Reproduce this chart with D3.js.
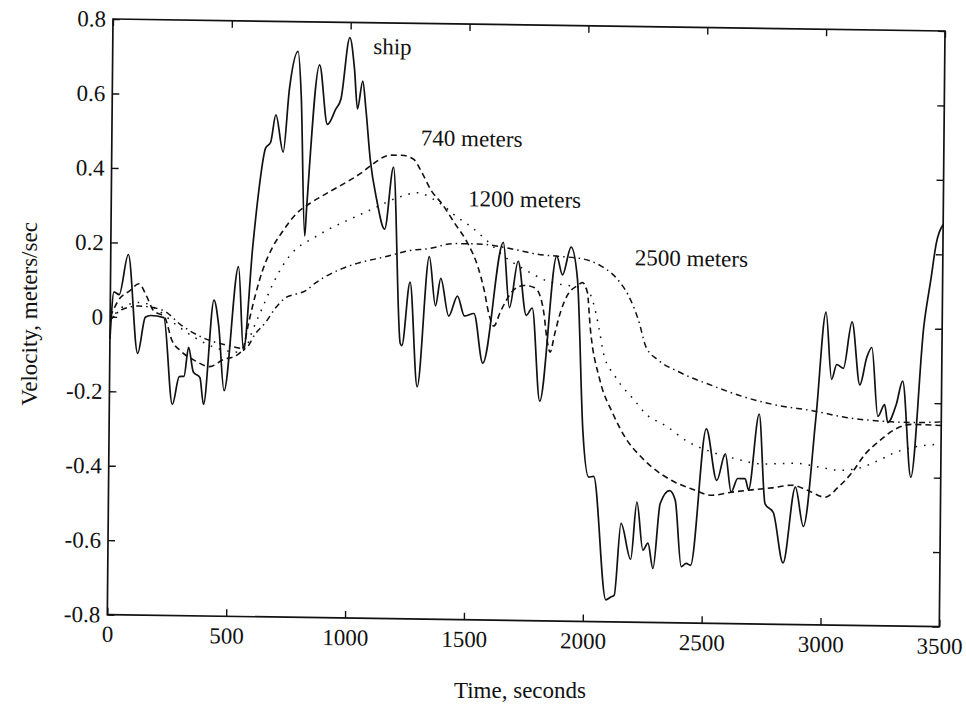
<!DOCTYPE html>
<html>
<head>
<meta charset="utf-8">
<script src="https://cdn.jsdelivr.net/npm/d3@7"></script>
<style>
  body { margin: 0; background: #fff; }
  svg { display: block; }
</style>
</head>
<body>
<div id="chart"><svg></svg></div>
<script>

// values: [time (s), velocity (m/s)]
var ship = [
    [0, -0.06], [15, 0.067], [37, 0.06], [74, 0.168], [117, -0.097], [148, 0.0], [170, 0.005],
    [226, 0.0], [265, -0.233], [293, -0.158], [313, -0.157], [331, -0.079], [352, -0.145],
    [380, -0.16], [396, -0.232], [436, 0.049], [457, -0.02], [482, -0.194], [538, 0.14],
    [562, -0.085], [597, 0.194], [618, 0.332], [647, 0.459], [668, 0.475], [689, 0.549],
    [721, 0.449], [745, 0.619], [780, 0.72], [795, 0.6], [815, 0.225], [822, 0.3], [871, 0.685],
    [906, 0.525], [941, 0.567], [962, 0.594], [997, 0.759], [1018, 0.674], [1032, 0.568],
    [1053, 0.643], [1067, 0.57], [1088, 0.431], [1116, 0.326], [1151, 0.246], [1186, 0.413],
    [1221, -0.06], [1228, -0.066], [1260, 0.105], [1294, -0.176], [1340, 0.174], [1368, 0.042],
    [1389, 0.116], [1424, 0.015], [1460, 0.069], [1490, 0.016], [1530, 0.023], [1569, -0.11],
    [1651, 0.215], [1679, 0.04], [1714, 0.165], [1750, 0.02], [1775, 0.04], [1810, -0.21],
    [1876, 0.18], [1901, 0.13], [1936, 0.205], [1964, 0.12], [1993, -0.29], [2019, -0.412],
    [2040, -0.41], [2096, -0.741], [2117, -0.733], [2131, -0.729], [2157, -0.535], [2199, -0.631],
    [2223, -0.477], [2250, -0.606], [2271, -0.587], [2293, -0.655], [2321, -0.48], [2360, -0.445],
    [2384, -0.47], [2412, -0.649], [2433, -0.64], [2451, -0.645], [2512, -0.278], [2558, -0.416],
    [2593, -0.344], [2619, -0.447], [2646, -0.41], [2677, -0.41], [2692, -0.44], [2734, -0.236],
    [2762, -0.477], [2797, -0.5], [2840, -0.635], [2889, -0.431], [2924, -0.536], [2973, -0.24],
    [3011, 0.04], [3037, -0.14], [3058, -0.10], [3086, -0.11], [3121, 0.015], [3156, -0.154],
    [3184, -0.08], [3205, -0.053], [3233, -0.238], [3261, -0.206], [3275, -0.254], [3310, -0.205],
    [3336, -0.142], [3374, -0.40], [3423, 0.007], [3451, 0.134], [3472, 0.23], [3500, 0.28]
];

var m740 = [
    [0, 0.0], [40, 0.05], [80, 0.07], [120, 0.09], [150, 0.06], [180, 0.02], [230, 0.0],
    [260, -0.06], [300, -0.09], [360, -0.115], [420, -0.13], [480, -0.11], [530, -0.10],
    [560, -0.08], [583, -0.01], [611, 0.067], [639, 0.13], [681, 0.194], [723, 0.237],
    [780, 0.285], [835, 0.312], [906, 0.34], [976, 0.366], [1046, 0.394], [1088, 0.415],
    [1172, 0.445], [1220, 0.445], [1270, 0.435], [1305, 0.40], [1347, 0.35], [1389, 0.318],
    [1445, 0.265], [1502, 0.21], [1544, 0.15], [1572, 0.086], [1593, 0.022], [1614, -0.01],
    [1642, 0.03], [1700, 0.09], [1740, 0.1], [1782, 0.095], [1803, 0.08], [1824, 0.027],
    [1838, -0.043], [1852, -0.078], [1870, -0.03], [1894, 0.03], [1922, 0.075], [1964, 0.102],
    [1985, 0.11], [2006, 0.085], [2020, -0.012], [2062, -0.15], [2118, -0.24], [2174, -0.307],
    [2230, -0.35], [2285, -0.383], [2369, -0.418], [2453, -0.44], [2537, -0.456], [2621, -0.447],
    [2705, -0.44], [2789, -0.434], [2874, -0.426], [2944, -0.44], [3014, -0.457], [3070, -0.429],
    [3126, -0.39], [3182, -0.339], [3238, -0.305], [3308, -0.271], [3378, -0.258], [3500, -0.26]
];

var m1200 = [
    [0, -0.01], [60, 0.03], [130, 0.04], [200, 0.02], [280, -0.02], [350, -0.05], [450, -0.08],
    [540, -0.09], [570, -0.08], [600, -0.03], [640, 0.03], [680, 0.09], [720, 0.14], [780, 0.19],
    [840, 0.215], [920, 0.245], [1000, 0.27], [1100, 0.30], [1200, 0.33], [1290, 0.345],
    [1350, 0.33], [1400, 0.31], [1445, 0.286], [1516, 0.255], [1580, 0.22], [1650, 0.18],
    [1750, 0.14], [1850, 0.11], [1950, 0.10], [2000, 0.095], [2030, 0.06], [2056, -0.01],
    [2077, -0.08], [2126, -0.14], [2210, -0.205], [2257, -0.24], [2341, -0.271], [2440, -0.315],
    [2537, -0.34], [2635, -0.357], [2747, -0.37], [2888, -0.367], [2987, -0.376], [3070, -0.384],
    [3140, -0.38], [3238, -0.356], [3308, -0.334], [3378, -0.32], [3500, -0.31]
];

var m2500 = [
    [0, -0.01], [50, 0.02], [120, 0.03], [220, 0.02], [300, -0.02], [400, -0.055], [480, -0.07],
    [569, -0.08], [611, -0.04], [653, -0.01], [695, 0.03], [737, 0.058], [780, 0.068],
    [822, 0.078], [864, 0.1], [920, 0.122], [976, 0.139], [1046, 0.155], [1116, 0.166],
    [1179, 0.176], [1250, 0.189], [1334, 0.195], [1445, 0.21], [1544, 0.21], [1642, 0.203],
    [1726, 0.193], [1789, 0.185], [1880, 0.18], [1985, 0.174], [2061, 0.156], [2133, 0.12],
    [2181, 0.075], [2223, 0.01], [2255, -0.06], [2307, -0.095], [2391, -0.125], [2537, -0.162],
    [2677, -0.192], [2818, -0.213], [2958, -0.225], [3098, -0.242], [3238, -0.25], [3378, -0.253],
    [3500, -0.25]
];

var xTicks = [0, 500, 1000, 1500, 2000, 2500, 3000, 3500];
var yTicks = [-0.8, -0.6, -0.4, -0.2, 0, 0.2, 0.4, 0.6, 0.8];

// label text and where it sits, in data units
var seriesLabels = [
    {text: "ship", t: 1096, v: 0.716},
    {text: "740 meters", t: 1300, v: 0.472},
    {text: "1200 meters", t: 1501, v: 0.311},
    {text: "2500 meters", t: 2205, v: 0.159}
];

var serif = "Liberation Serif, DejaVu Serif, serif";

var width = 832,
    height = 598;

var x = d3.scaleLinear().domain([0, 3500]).range([0, width]);
var y = d3.scaleLinear().domain([-0.8, 0.8]).range([height, 0]);

var valueline = d3.line()
    .x(function (d) { return x(d[0]); })
    .y(function (d) { return y(d[1]); })
    .curve(d3.curveMonotoneX);

var root = d3.select("#chart").select("svg")
    .attr("width", 966)
    .attr("height", 704);

root.append("rect")
    .attr("width", 966)
    .attr("height", 704)
    .attr("fill", "#fff");

// the scanned figure sits slightly skewed on the page
var svg = root.append("g")
    .attr("transform", "matrix(1,0.0144,-0.0095,0.996,113,19)");

// frame
svg.append("rect")
    .attr("width", width)
    .attr("height", height)
    .attr("fill", "none")
    .attr("stroke", "#111")
    .attr("stroke-width", 1.7);

var yFmt = function (d) {
    return d === 0 ? "0" : d3.format(".1f")(d).replace("\u2212", "-");
};

function styleAxis(g) {
    g.select(".domain").remove();
    g.attr("font-family", serif).attr("font-size", 23);
    g.selectAll(".tick line").attr("stroke", "#111").attr("stroke-width", 1.4);
    g.selectAll(".tick text").attr("fill", "#111");
}

svg.append("g")
    .attr("transform", "translate(0," + height + ")")
    .call(d3.axisBottom(x).tickValues(xTicks).tickSize(-7).tickPadding(11).tickFormat(d3.format("d")))
    .call(styleAxis);

svg.append("g")
    .call(d3.axisTop(x).tickValues(xTicks).tickSize(-7).tickFormat(""))
    .call(styleAxis);

svg.append("g")
    .call(d3.axisLeft(y).tickValues(yTicks).tickSize(-7).tickPadding(7).tickFormat(yFmt))
    .call(styleAxis);

svg.append("g")
    .attr("transform", "translate(" + width + ",0)")
    .call(d3.axisRight(y).tickValues(yTicks).tickSize(-7).tickFormat(""))
    .call(styleAxis);

// the four records
var series = [
    {data: m2500, dash: "6,4,1.5,4", w: 1.5},
    {data: m1200, dash: "1.6,7", w: 1.5},
    {data: m740, dash: "6,4", w: 1.6},
    {data: ship, dash: null, w: 1.7}
];

series.forEach(function (s) {
    svg.append("path")
        .datum(s.data)
        .attr("fill", "none")
        .attr("stroke", "#111")
        .attr("stroke-width", s.w)
        .attr("stroke-linejoin", "round")
        .attr("stroke-dasharray", s.dash)
        .attr("d", valueline);
});

svg.selectAll(".serieslabel")
    .data(seriesLabels)
    .enter().append("text")
    .attr("class", "serieslabel")
    .attr("x", function (d) { return x(d.t); })
    .attr("y", function (d) { return y(d.v); })
    .attr("font-family", serif)
    .attr("font-size", 23)
    .attr("fill", "#111")
    .text(function (d) { return d.text; });

// axis titles
root.append("text")
    .attr("transform", "translate(520,698)")
    .attr("font-family", serif)
    .attr("font-size", 23)
    .attr("text-anchor", "middle")
    .attr("fill", "#111")
    .text("Time, seconds");

root.append("text")
    .attr("transform", "translate(37,314) rotate(-90)")
    .attr("font-family", serif)
    .attr("font-size", 23)
    .attr("text-anchor", "middle")
    .attr("fill", "#111")
    .text("Velocity, meters/sec");

</script>
</body>
</html>
